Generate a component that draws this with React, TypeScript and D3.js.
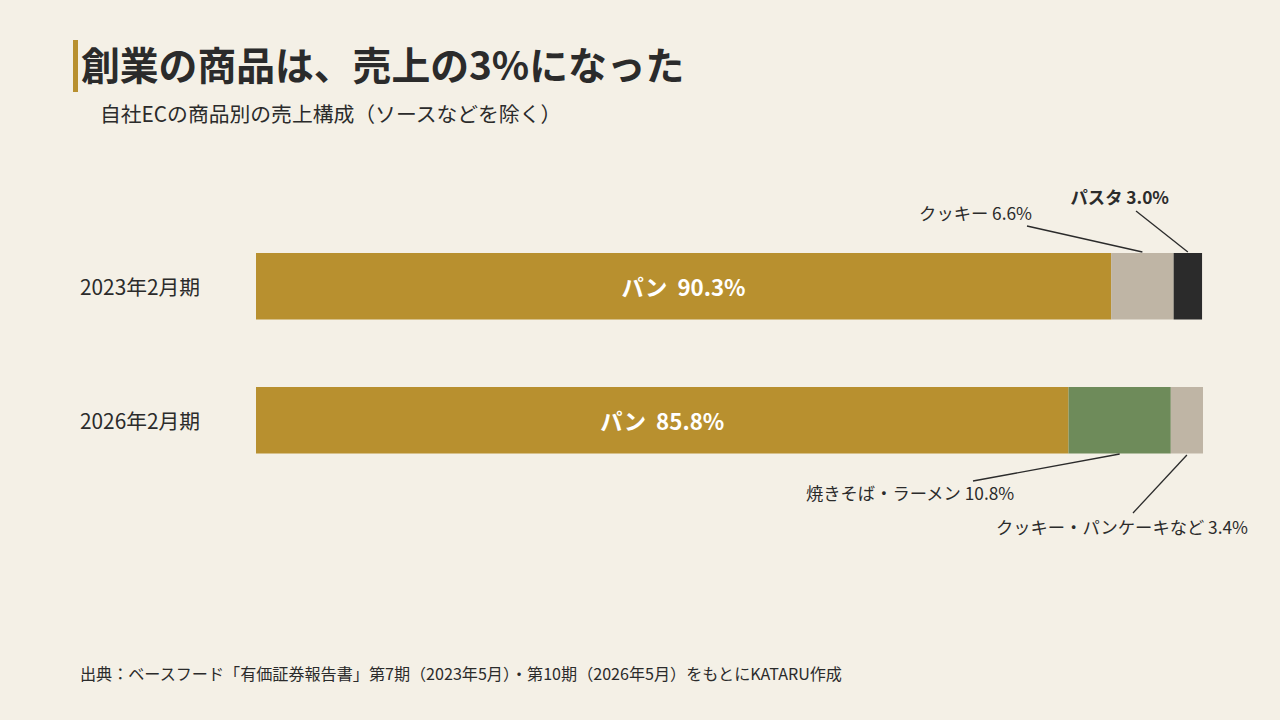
import React from "react";
import * as d3 from "d3";

const periods = ["2023年2月期", "2026年2月期"];
const seg2023 = [
  { name: "パン", value: 90.3, color: "#B8902F" },
  { name: "クッキー", value: 6.6, color: "#BFB5A5" },
  { name: "パスタ", value: 3.0, color: "#2B2B2B" },
];
const seg2026 = [
  { name: "パン", value: 85.8, color: "#B8902F" },
  { name: "焼きそば・ラーメン", value: 10.8, color: "#6E8B5A" },
  { name: "クッキー・パンケーキなど", value: 3.4, color: "#BFB5A5" },
];
const rows = [seg2023, seg2026];

const FONT = "'Noto Sans CJK JP', 'Noto Sans', sans-serif";

export default function App() {
  const W = 1280, H = 720;
  const x = d3.scaleLinear().domain([0, 100]).range([256, 1203]);
  const bandY = (i: number) => (i === 0 ? 253 : 387);
  const bh = 66.5;

  const stacked = rows.map((segs) => {
    let acc = 0;
    return segs.map((s) => {
      const x0 = acc;
      acc += s.value;
      return { ...s, x0, x1: acc };
    });
  });
  const mid = (s: { x0: number; x1: number }) => x((s.x0 + s.x1) / 2);

  return (
    <svg width={W} height={H} style={{ display: "block", position: "absolute", left: 0, top: 0, fontFamily: FONT }}>
      <rect width={W} height={H} fill="#F4F0E6" />
      <rect x={73} y={40} width={5} height={52} fill="#B8902F" />
      <text x={81} y={80} fontSize={38.8} fontWeight={700} fill="#2B2B2B">創業の商品は、売上の3%になった</text>
      <text x={100} y={122} fontSize={20.8} fill="#2B2B2B">自社ECの商品別の売上構成（ソースなどを除く）</text>

      {stacked.map((segs, i) => (
        <g key={i}>
          <text x={80} y={bandY(i) + bh / 2} dominantBaseline="central" fontSize={20.8} fill="#2B2B2B">{periods[i]}</text>
          {segs.map((s, j) => (
            <rect key={j} x={x(s.x0)} y={bandY(i)} width={x(s.x1) - x(s.x0)} height={bh} fill={s.color} />
          ))}
          <text
            x={mid(segs[0])}
            y={bandY(i) + bh / 2}
            dominantBaseline="central"
            textAnchor="middle"
            fontSize={22.3}
            fontWeight={700}
            fill="#FFFFFF"
            style={{ whiteSpace: "pre" }}
          >
            {`${segs[0].name}  ${segs[0].value.toFixed(1)}%`}
          </text>
        </g>
      ))}

      <g stroke="#2B2B2B" strokeWidth={1.3}>
        <line x1={1027} y1={226} x2={mid(stacked[0][1])} y2={252} />
        <line x1={1136} y1={211} x2={mid(stacked[0][2])} y2={252} />
        <line x1={973} y1={481} x2={mid(stacked[1][1])} y2={454} />
        <line x1={1133} y1={513} x2={mid(stacked[1][2])} y2={455} />
      </g>
      <text x={1032} y={220} textAnchor="end" fontSize={17.3} fill="#2B2B2B">{`${stacked[0][1].name} ${stacked[0][1].value.toFixed(1)}%`}</text>
      <text x={1169} y={204} textAnchor="end" fontSize={17.3} fontWeight={700} fill="#2B2B2B">{`${stacked[0][2].name} ${stacked[0][2].value.toFixed(1)}%`}</text>
      <text x={806} y={500} fontSize={17.3} fill="#2B2B2B">{`${stacked[1][1].name} ${stacked[1][1].value.toFixed(1)}%`}</text>
      <text x={1248} y={534} textAnchor="end" fontSize={17.3} fill="#2B2B2B">{`${stacked[1][2].name} ${stacked[1][2].value.toFixed(1)}%`}</text>

      <text x={80} y={680} fontSize={16.1} fill="#2B2B2B">出典：ベースフード「有価証券報告書」第7期（2023年5月）・第10期（2026年5月）をもとにKATARU作成</text>
    </svg>
  );
}
